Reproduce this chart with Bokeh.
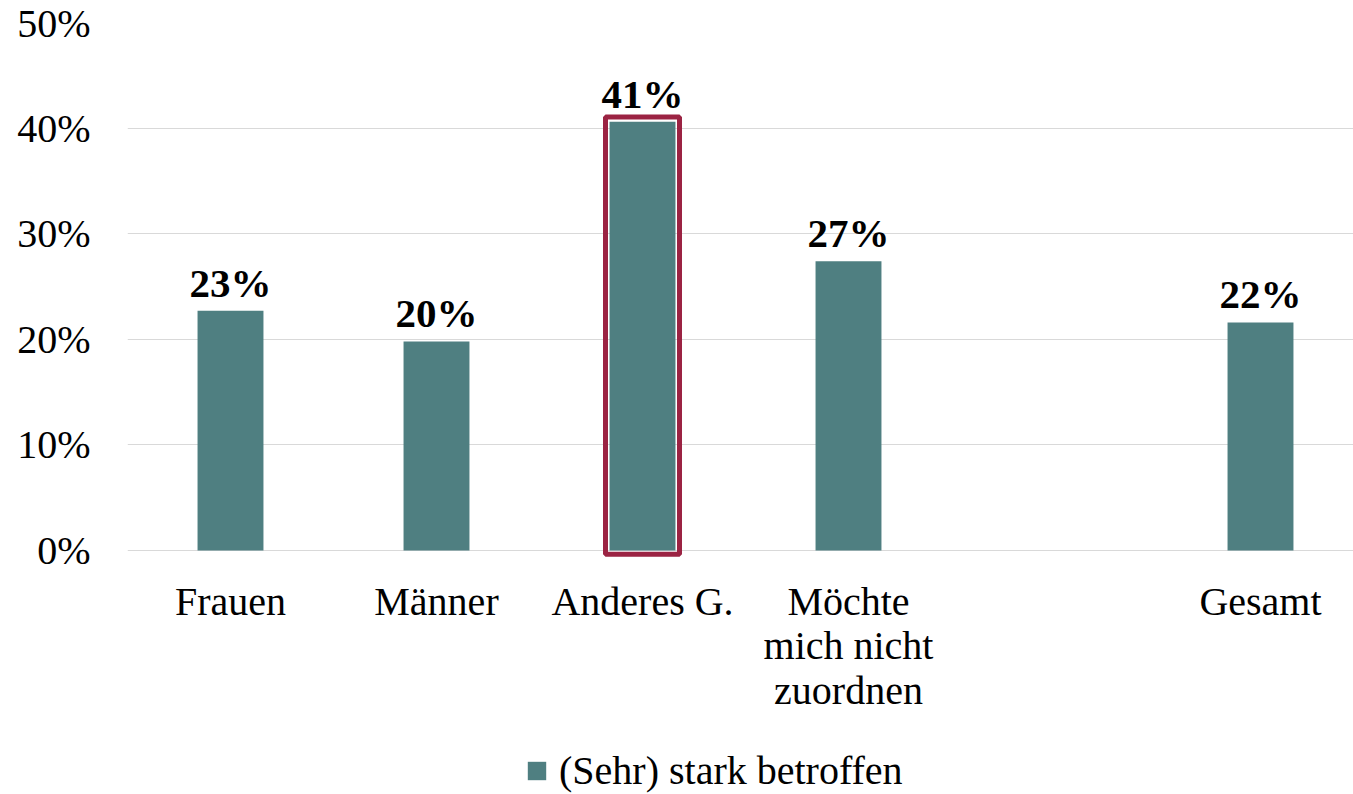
from bokeh.plotting import figure
from bokeh.models import ColumnDataSource, FixedTicker, Legend, LegendItem, Range1d
from bokeh.core.properties import value
from bokeh.embed import file_html
from bokeh.resources import INLINE

# ---- data ----
categories = ["Frauen", "Männer", "Anderes G.", "Möchte\nmich nicht\nzuordnen", "Gesamt"]
positions = [0, 1, 2, 3, 5]
values = [22.7, 19.8, 40.6, 27.4, 21.6]
value_labels = ["23%", "20%", "41%", "27%", "22%"]
y_ticks = [0, 10, 20, 30, 40, 50]
y_tick_labels = ["0%", "10%", "20%", "30%", "40%", "50%"]
series_name = "(Sehr) stark betroffen"
highlight_index = 2

TEAL = "#4F7F81"
CRIMSON = "#9B2343"
GRID = "#D9D9D9"
FONT = "Liberation Serif"

W, H = 1353, 794
left = 127
top_px, zero_px = 22, 550
slot_px = 206
frame_w = W - left
px_per_unit = (zero_px - top_px) / 50.0
y_start = -(H - zero_px) / px_per_unit

src = ColumnDataSource(dict(x=positions, top=values, lab=value_labels, cat=categories,
                            base=[0] * len(positions)))

p = figure(width=W, height=H, output_backend="svg", toolbar_location=None,
           x_range=Range1d(-0.5, -0.5 + frame_w / slot_px), y_range=Range1d(y_start, 50),
           min_border_left=left, min_border_right=0, min_border_top=top_px, min_border_bottom=0)
p.outline_line_color = None
p.background_fill_color = "white"
p.border_fill_color = "white"

bars = p.vbar(x="x", top="top", bottom=0, width=0.32, source=src,
              fill_color=TEAL, line_color=None)

hv = values[highlight_index]
p.rect(x=[positions[highlight_index]], y=[(hv + 0.1) / 2], width=74, width_units="screen",
       height=hv + 0.8, fill_color=None, line_color=CRIMSON, line_width=5)

# value labels
p.text(x="x", y="top", text="lab", source=src, text_align="center",
       text_baseline="alphabetic", y_offset=-28,
       text_font=value(FONT), text_font_style="bold", text_font_size="41px", text_color="black")

# category labels below the baseline
p.text(x="x", y="base", text="cat", source=src, text_align="center",
       text_baseline="top", y_offset=28, text_line_height=0.99,
       text_font=value(FONT), text_font_size="40px", text_color="black")

p.xaxis.visible = False

p.yaxis.ticker = FixedTicker(ticks=y_ticks)
p.yaxis.major_label_overrides = {t: l for t, l in zip(y_ticks, y_tick_labels)}
p.yaxis.axis_line_color = None
p.yaxis.major_tick_line_color = None
p.yaxis.minor_tick_line_color = None
p.yaxis.major_label_standoff = 31
p.yaxis.major_label_text_font = FONT
p.yaxis.major_label_text_font_size = "40px"
p.yaxis.major_label_text_color = "black"

p.xgrid.grid_line_color = None
p.ygrid.grid_line_color = GRID
p.ygrid.grid_line_width = 1

legend = Legend(items=[LegendItem(label=series_name, renderers=[bars])],
                location=(398, 0), orientation="horizontal",
                glyph_width=23, glyph_height=23, label_standoff=11,
                label_text_font=FONT, label_text_font_size="40px", label_text_color="black",
                padding=0, margin=0, border_line_color=None, background_fill_alpha=0)
p.add_layout(legend, "center")

open("out.html", "w").write(file_html(p, INLINE))
